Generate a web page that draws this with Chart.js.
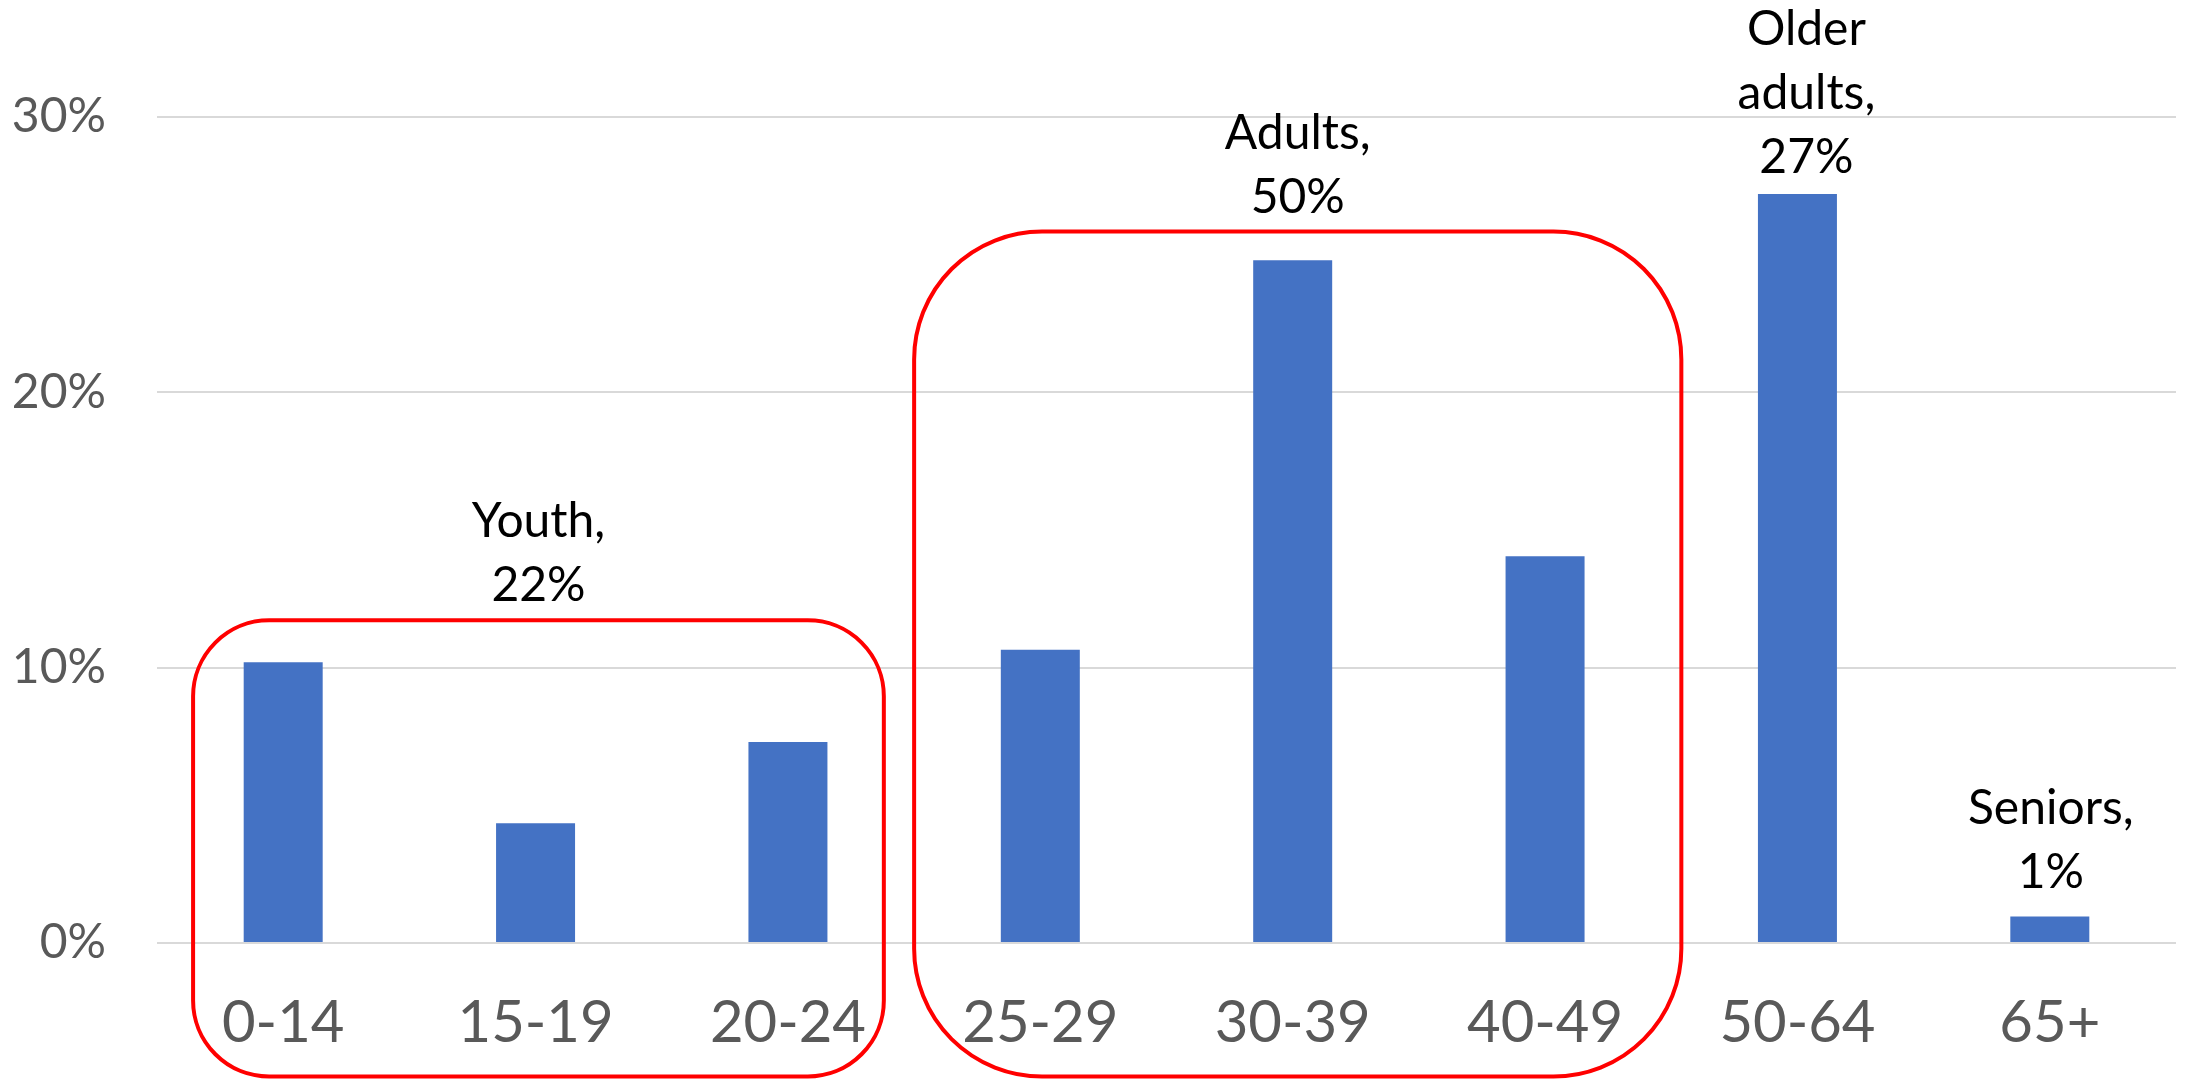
<!DOCTYPE html>
<html>
<head>
<meta charset="utf-8">
<script src="https://cdn.jsdelivr.net/npm/chart.js@4.4.1/dist/chart.umd.min.js"></script>
<style>
  html, body { margin: 0; padding: 0; background: #ffffff; }
  #wrap { width: 2190px; height: 1080px; }
</style>
</head>
<body>
<div id="wrap"><canvas id="chart" width="2190" height="1080"></canvas></div>
<script>
// age groups and their share of the total (%)
const ageGroups = ['0-14', '15-19', '20-24', '25-29', '30-39', '40-49', '50-64', '65+'];
const shareValues = [10.2, 4.35, 7.3, 10.65, 24.8, 14.05, 27.2, 0.96];
const yTicks = [0, 10, 20, 30];

// grouped labels (first / last age group index of each)
const groupNames = [['Youth,'], ['Adults,'], ['Older', 'adults,'], ['Seniors,']];
const groupShares = ['22%', '50%', '27%', '1%'];
const groupFirst = [0, 3, 6, 7];
const groupLast = [2, 5, 6, 7];

const BAR = '#4472C4';
const TEXT = '#595959';
const GRID = '#D9D9D9';
const RED = '#FF0000';

// red rounded outlines around youth and adults (in category / value units)
const outlines = [
    { group: 0, from: -0.357, to: 2.38, top: 11.72, bottom: -4.85 },
    { group: 1, from: 2.5, to: 5.54, top: 25.84, bottom: -4.85 }
];

function roundRectPath(ctx, x, y, w, h, r) {
    ctx.beginPath();
    ctx.moveTo(x + r, y);
    ctx.lineTo(x + w - r, y);
    ctx.arcTo(x + w, y, x + w, y + r, r);
    ctx.lineTo(x + w, y + h - r);
    ctx.arcTo(x + w, y + h, x + w - r, y + h, r);
    ctx.lineTo(x + r, y + h);
    ctx.arcTo(x, y + h, x, y + h - r, r);
    ctx.lineTo(x, y + r);
    ctx.arcTo(x, y, x + r, y, r);
    ctx.closePath();
}

const groupPlugin = {
    id: 'groupPlugin',
    afterDraw(chart) {
        const { ctx, scales: { x, y } } = chart;
        ctx.save();

        // outlines
        const boxCenter = {};
        const boxTop = {};
        outlines.forEach(o => {
            const x0 = x.getPixelForValue(o.from);
            const x1 = x.getPixelForValue(o.to);
            const y0 = y.getPixelForValue(o.top);
            const y1 = y.getPixelForValue(o.bottom);
            const r = Math.min(x1 - x0, y1 - y0) * 0.1667;
            ctx.strokeStyle = RED;
            ctx.lineWidth = 4;
            roundRectPath(ctx, x0, y0, x1 - x0, y1 - y0, r);
            ctx.stroke();
            boxCenter[o.group] = (x0 + x1) / 2;
            boxTop[o.group] = y0;
        });

        // group labels
        ctx.fillStyle = '#000000';
        ctx.font = '48px Lato, "Open Sans", sans-serif';
        ctx.textAlign = 'center';
        ctx.textBaseline = 'alphabetic';
        const lineH = 64;
        groupNames.forEach((names, g) => {
            let cx, base;
            if (boxCenter[g] !== undefined) {
                cx = boxCenter[g];
                base = boxTop[g] - 19;
            } else {
                const i = groupFirst[g];
                cx = x.getPixelForValue(i) + (g === 2 ? 9 : 1);
                base = y.getPixelForValue(shareValues[i]) - (g === 3 ? 29 : 21);
            }
            const lines = names.concat([groupShares[g]]);
            lines.forEach((t, k) => {
                ctx.fillText(t, cx, base - (lines.length - 1 - k) * lineH);
            });
        });
        ctx.restore();
    }
};

new Chart(document.getElementById('chart'), {
    type: 'bar',
    data: {
        labels: ageGroups,
        datasets: [{
            data: shareValues,
            backgroundColor: BAR,
            borderWidth: 0,
            categoryPercentage: 1,
            barPercentage: 0.313
        }]
    },
    options: {
        responsive: false,
        devicePixelRatio: 1,
        animation: false,
        layout: { padding: { top: 117, right: 14, left: 0, bottom: 0 } },
        plugins: {
            legend: { display: false },
            tooltip: { enabled: false }
        },
        scales: {
            x: {
                grid: { display: false, drawTicks: false, tickLength: 0 },
                border: { display: false },
                ticks: {
                    color: TEXT,
                    font: { family: 'Lato, "Open Sans", sans-serif', size: 58 },
                    padding: 45,
                    maxRotation: 0,
                    autoSkip: false
                },
                afterFit: s => { s.height = 137; }
            },
            y: {
                min: 0,
                max: 30,
                afterBuildTicks: s => { s.ticks = yTicks.map(v => ({ value: v })); },
                grid: { color: GRID, lineWidth: 2, drawTicks: false, tickLength: 0 },
                border: { display: false },
                ticks: {
                    color: TEXT,
                    font: { family: 'Lato, "Open Sans", sans-serif', size: 48 },
                    padding: 51,
                    callback: v => v + '%'
                },
                afterFit: s => { s.width = 157; }
            }
        }
    },
    plugins: [groupPlugin]
});
</script>
</body>
</html>
